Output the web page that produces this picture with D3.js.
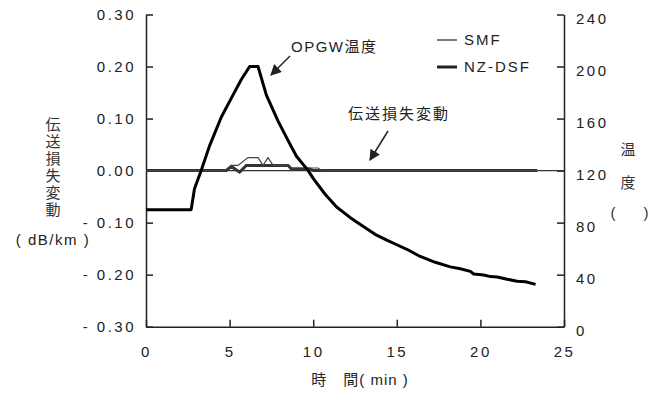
<!DOCTYPE html>
<html>
<head>
<meta charset="utf-8">
<script src="https://cdn.jsdelivr.net/npm/d3@7"></script>
<style>
  body { margin: 0; background: #fff; }
  svg { font-family: "Liberation Sans", Arial, "Noto Sans CJK JP", sans-serif; }
  .tick text { font-size: 15px; fill: #222; letter-spacing: 2.5px; }
  .axis path, .axis line { stroke: #222; stroke-width: 1.5; }
</style>
</head>
<body>
<div id="chart-container"></div>
<script>
// time (min), OPGW temperature (deg C)
const tempTime = [0, 1, 2, 2.7, 2.9, 3.3, 3.8, 4.5, 5.2, 5.7, 6.2, 6.7, 7.2, 7.9, 8.5, 9.0, 9.7, 10.0, 10.7, 11.4, 12.2, 13.0, 13.7, 14.4, 15.0, 15.6, 16.4, 17.3, 18.2, 18.8, 19.4, 19.6, 20.2, 20.6, 21.0, 21.6, 22.2, 22.7, 23.3];
const tempValue = [90, 90, 90, 90, 106, 120, 139, 161, 178, 190, 200, 200, 178, 158, 143, 131, 120, 114, 102, 92, 84, 77, 71, 66.5, 63, 59.5, 54, 49.5, 46, 44.5, 42.5, 40.5, 39.8, 38.5, 38.2, 36.5, 35, 34.5, 32.5];

// loss change (dB/km)
const smfTime = [0, 4.7, 5.1, 5.5, 6.1, 6.7, 7.0, 7.3, 7.6, 8.5, 8.7, 10.3, 10.5, 23.4];
const smfLoss = [0, 0, 0.01, 0.01, 0.025, 0.025, 0.01, 0.025, 0.01, 0.01, 0.005, 0.005, 0, 0];
const nzTime = [0, 4.8, 5.1, 5.6, 6.0, 8.5, 8.7, 9.8, 10.0, 23.4];
const nzLoss = [0, 0, 0.008, -0.003, 0.01, 0.01, 0.003, 0.003, 0, 0];

const lossTicks = [-0.3, -0.2, -0.1, 0, 0.1, 0.2, 0.3];
const tempTicks = [0, 40, 80, 120, 160, 200, 240];
const timeTicks = [0, 5, 10, 15, 20, 25];

const width = 664;
const height = 394;

const svg = d3.select("#chart-container")
    .append("svg")
    .attr("width", width)
    .attr("height", height);

const x = d3.scaleLinear().domain([0, 25]).range([146, 564]);
const yLoss = d3.scaleLinear().domain([-0.3, 0.3]).range([326.7, 14.5]);
const yTemp = d3.scaleLinear().domain([0, 240]).range([326.7, 14.5]);

// arrow marker
svg.append("defs").append("marker")
    .attr("id", "arrow")
    .attr("viewBox", "0 0 10 10")
    .attr("refX", 9).attr("refY", 5)
    .attr("markerWidth", 11).attr("markerHeight", 11)
    .attr("markerUnits", "userSpaceOnUse")
    .attr("orient", "auto")
    .append("path")
    .attr("d", "M0,0 L10,5 L0,10 z")
    .attr("fill", "#222");

// axes
svg.append("g")
    .attr("class", "axis")
    .attr("transform", "translate(146,0)")
    .call(d3.axisLeft(yLoss).tickValues(lossTicks).tickSizeInner(-7).tickSizeOuter(0).tickPadding(10)
        .tickFormat(d => d < 0 ? "- " + Math.abs(d).toFixed(2) : d.toFixed(2)));

svg.append("g")
    .attr("class", "axis right")
    .attr("transform", "translate(564,0)")
    .call(d3.axisRight(yTemp).tickValues(tempTicks).tickSizeInner(-7).tickSizeOuter(0).tickPadding(12));
svg.selectAll(".right .tick text").attr("dy", "0.6em");

svg.append("g")
    .attr("class", "axis")
    .attr("transform", "translate(0,326.7)")
    .call(d3.axisBottom(x).tickValues(timeTicks).tickSizeInner(-7).tickSizeOuter(0).tickPadding(20));

// zero reference line
svg.append("line")
    .attr("x1", x(0)).attr("x2", x(25))
    .attr("y1", yLoss(0)).attr("y2", yLoss(0))
    .attr("stroke", "#333").attr("stroke-width", 1.2);

const lossLine = (times) => d3.line()
    .x((d, i) => x(times[i]))
    .y(d => yLoss(d));

svg.append("path")
    .datum(nzLoss)
    .attr("d", lossLine(nzTime))
    .attr("fill", "none")
    .attr("stroke", "#333")
    .attr("stroke-width", 3);

svg.append("path")
    .datum(smfLoss)
    .attr("d", lossLine(smfTime))
    .attr("fill", "none")
    .attr("stroke", "#444")
    .attr("stroke-width", 1.2);

// temperature curve
svg.append("path")
    .datum(tempValue)
    .attr("d", d3.line().x((d, i) => x(tempTime[i])).y(d => yTemp(d)))
    .attr("fill", "none")
    .attr("stroke", "#000")
    .attr("stroke-width", 3)
    .attr("stroke-linejoin", "round");

// legend
const legend = svg.append("g");
[["SMF", 1.2, 40], ["NZ-DSF", 3, 67]].forEach(([name, w, y]) => {
  legend.append("line")
      .attr("x1", 437).attr("x2", 457).attr("y1", y).attr("y2", y)
      .attr("stroke", "#222").attr("stroke-width", w);
  legend.append("text")
      .attr("x", 464).attr("y", y).attr("dy", "0.36em")
      .attr("font-size", 15).attr("letter-spacing", 2).attr("fill", "#222")
      .text(name);
});

// annotations
svg.append("text")
    .attr("x", 291).attr("y", 52)
    .attr("font-size", 15).attr("letter-spacing", 1.5).attr("fill", "#222")
    .text("OPGW温度");
svg.append("line")
    .attr("x1", 290).attr("y1", 56).attr("x2", 271).attr("y2", 75)
    .attr("stroke", "#222").attr("stroke-width", 1.5)
    .attr("marker-end", "url(#arrow)");

svg.append("text")
    .attr("x", 348).attr("y", 119)
    .attr("font-size", 15).attr("letter-spacing", 2).attr("fill", "#222")
    .text("伝送損失変動");
svg.append("line")
    .attr("x1", 388).attr("y1", 131).attr("x2", 370).attr("y2", 160)
    .attr("stroke", "#222").attr("stroke-width", 1.5)
    .attr("marker-end", "url(#arrow)");

// axis titles
const leftTitle = "伝送損失変動".split("");
svg.append("g").selectAll("text")
    .data(leftTitle)
    .enter()
    .append("text")
    .attr("x", 53)
    .attr("y", (d, i) => 125 + i * 17)
    .attr("dy", "0.36em")
    .attr("text-anchor", "middle")
    .attr("font-size", 15).attr("fill", "#333")
    .text(d => d);
svg.append("text")
    .attr("x", 53).attr("y", 240).attr("dy", "0.36em")
    .attr("text-anchor", "middle")
    .attr("font-size", 15).attr("letter-spacing", 1.5).attr("fill", "#222")
    .text("( dB/km )");

svg.append("text").attr("x", 628).attr("y", 150).attr("dy", "0.36em")
    .attr("text-anchor", "middle").attr("font-size", 15).attr("fill", "#333").text("温");
svg.append("text").attr("x", 628).attr("y", 183).attr("dy", "0.36em")
    .attr("text-anchor", "middle").attr("font-size", 15).attr("fill", "#333").text("度");
svg.append("text").attr("x", 613).attr("y", 213).attr("dy", "0.36em")
    .attr("text-anchor", "middle").attr("font-size", 15).attr("fill", "#333").text("(");
svg.append("text").attr("x", 646).attr("y", 213).attr("dy", "0.36em")
    .attr("text-anchor", "middle").attr("font-size", 15).attr("fill", "#333").text(")");

svg.append("text")
    .attr("x", 360).attr("y", 380).attr("dy", "0.36em")
    .attr("text-anchor", "middle")
    .attr("font-size", 15).attr("letter-spacing", 1).attr("fill", "#222")
    .text("時　間( min )");
</script>
</body>
</html>
